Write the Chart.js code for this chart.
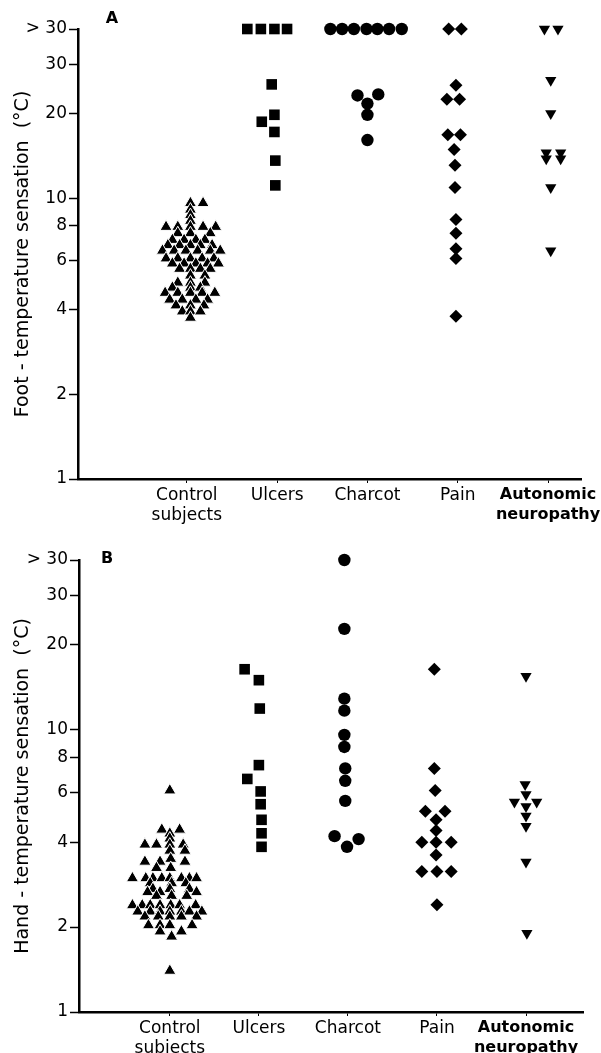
<!DOCTYPE html>
<html lang="en">
<head>
<meta charset="UTF-8">
<title>Foot and hand temperature sensation</title>
<script src="https://cdn.jsdelivr.net/npm/chart.js"></script>
<style>
  body { margin: 0; background: #fff; }
  canvas { display: block; }
</style>
</head>
<body>
<canvas id="panelA" width="601" height="525"></canvas>
<canvas id="panelB" width="601" height="528"></canvas>
<script>
// categories and y axis ticks (">30" values are plotted on the top line, 40)
const groups = [['Control', 'subjects'], 'Ulcers', 'Charcot', 'Pain', ['Autonomic', 'neuropathy']];
const yTicks = [1, 2, 4, 6, 8, 10, 20, 30, 40];
const yTickLabels = ['1', '2', '4', '6', '8', '10', '20', '30', '> 30'];

// A: foot, threshold in degC, x = group position incl. horizontal spread
const footControlY = [9.6, 9.6, 9.1, 8.7, 8.3, 7.9, 7.9, 7.9, 7.9, 7.9, 7.5, 7.5, 7.5, 7.1, 7.1, 7.1, 7.1,
  6.8, 6.8, 6.8, 6.8, 6.8, 6.5, 6.5, 6.5, 6.5, 6.5, 6.5, 6.1, 6.1, 6.1, 6.1, 6.1, 5.85, 5.85, 5.85, 5.85, 5.85,
  5.6, 5.6, 5.6, 5.6, 5.3, 5.3, 5.0, 5.0, 5.0, 4.8, 4.8, 4.8, 4.6, 4.6, 4.6, 4.6, 4.6, 4.35, 4.35, 4.35, 4.35,
  4.15, 4.15, 4.15, 3.95, 3.95, 3.95, 3.75];
const footControlX = [1.04, 1.18, 1.04, 1.04, 1.04, 0.77, 0.90, 1.04, 1.18, 1.32, 0.90, 1.04, 1.26, 0.84, 0.97, 1.10, 1.20,
  0.79, 0.92, 1.04, 1.15, 1.28, 0.73, 0.86, 0.99, 1.12, 1.26, 1.37, 0.77, 0.90, 1.04, 1.17, 1.30, 0.84, 0.97, 1.10, 1.23, 1.35,
  0.92, 1.04, 1.15, 1.26, 1.04, 1.20, 0.90, 1.04, 1.20, 0.84, 1.04, 1.15, 0.76, 0.90, 1.04, 1.17, 1.31, 0.81, 0.95, 1.10, 1.23,
  0.88, 1.04, 1.19, 0.95, 1.04, 1.15, 1.04];
const footUlcersY = [40, 40, 40, 40, 25.4, 19.8, 18.7, 17.2, 13.6, 11.1];
const footUlcersX = [1.67, 1.82, 1.97, 2.11, 1.94, 1.97, 1.83, 1.97, 1.98, 1.98];
const footCharcotY = [40, 40, 40, 40, 40, 40, 40, 23.2, 23.4, 21.7, 19.8, 16.1];
const footCharcotX = [2.59, 2.72, 2.85, 2.99, 3.11, 3.24, 3.38, 2.89, 3.12, 3.0, 3.0, 3.0];
const footPainY = [40, 40, 25.2, 22.5, 22.5, 16.8, 16.8, 14.9, 13.1, 10.9, 8.4, 7.5, 6.6, 6.1, 3.8];
const footPainX = [3.90, 4.04, 3.98, 3.88, 4.02, 3.89, 4.03, 3.96, 3.97, 3.97, 3.98, 3.98, 3.98, 3.98, 3.98];
const footAutoY = [40, 40, 26.3, 20.0, 14.5, 13.8, 14.5, 13.8, 10.9, 6.5];
const footAutoX = [4.96, 5.11, 5.03, 5.03, 4.98, 4.98, 5.14, 5.14, 5.03, 5.03];

// B: hand
const handControlY = [6.1, 4.43, 4.43, 4.29, 4.12, 3.92, 3.92, 3.92, 3.92, 3.73, 3.73, 3.49, 3.41, 3.41, 3.41, 3.24, 3.24,
  2.98, 2.98, 2.98, 2.98, 2.98, 2.98, 2.98, 2.98, 2.86, 2.86, 2.86, 2.73, 2.73, 2.73, 2.66, 2.66, 2.66, 2.58, 2.58, 2.58,
  2.39, 2.39, 2.39, 2.39, 2.39, 2.39, 2.39, 2.27, 2.27, 2.27, 2.27, 2.27, 2.27, 2.27, 2.18, 2.18, 2.18, 2.18, 2.18,
  2.03, 2.03, 2.03, 2.03, 1.93, 1.93, 1.85, 1.40];
const handControlX = [1.0, 0.91, 1.11, 1.0, 1.0, 0.72, 0.85, 1.0, 1.15, 1.0, 1.17, 1.01, 0.72, 0.89, 1.17, 0.85, 1.01,
  0.58, 0.73, 0.81, 0.91, 1.0, 1.13, 1.22, 1.30, 0.78, 1.02, 1.18, 0.81, 1.0, 1.22, 0.75, 0.89, 1.30, 0.85, 1.02, 1.19,
  0.58, 0.69, 0.78, 0.89, 1.01, 1.11, 1.29, 0.64, 0.78, 0.89, 1.0, 1.13, 1.22, 1.36, 0.72, 0.87, 1.0, 1.13, 1.30,
  0.76, 0.89, 1.0, 1.25, 0.89, 1.13, 1.02, 1.0];
const handUlcersY = [16.4, 15.0, 11.9, 7.5, 6.7, 6.05, 5.45, 4.8, 4.3, 3.85];
const handUlcersX = [1.84, 2.0, 2.01, 2.0, 1.87, 2.02, 2.02, 2.03, 2.03, 2.03];
const handCharcotY = [40, 22.8, 12.9, 11.7, 9.6, 8.7, 7.3, 6.6, 5.6, 4.2, 3.85, 4.1];
const handCharcotX = [2.96, 2.96, 2.96, 2.96, 2.96, 2.96, 2.97, 2.97, 2.97, 2.85, 2.99, 3.12];
const handPainY = [16.4, 7.3, 6.1, 5.15, 5.15, 4.8, 4.4, 4.0, 4.0, 4.0, 3.6, 3.15, 3.15, 3.15, 2.4];
const handPainX = [3.97, 3.97, 3.98, 3.87, 4.09, 3.99, 3.99, 3.83, 3.99, 4.16, 3.99, 3.83, 4.0, 4.16, 4.0];
const handAutoY = [15.5, 6.4, 5.9, 5.55, 5.55, 5.35, 4.95, 4.55, 3.4, 1.9];
const handAutoX = [5.0, 4.99, 5.0, 4.87, 5.12, 5.0, 5.0, 5.0, 5.0, 5.01];

const FONT = '"DejaVu Sans", Arial, sans-serif';

// draws the panel letter (A / B)
const panelLabel = {
  id: 'panelLabel',
  afterDraw(chart, args, opts) {
    const ctx = chart.ctx;
    ctx.save();
    ctx.font = 'bold 16px ' + FONT;
    ctx.fillStyle = '#000';
    ctx.textAlign = 'center';
    ctx.textBaseline = 'middle';
    ctx.fillText(opts.text, opts.x, opts.y);
    ctx.restore();
  }
};

function series(x, y, style, radius, extra) {
  return Object.assign({
    data: y.map((v, i) => ({ x: x[i], y: v })),
    pointStyle: style,
    pointRadius: radius,
    pointHoverRadius: radius,
    backgroundColor: '#000',
    borderColor: '#000',
    borderWidth: 0,
    clip: false
  }, extra || {});
}

function makePanel(id, datasets, xMin, xMax, box, letter, yTitle) {
  const canvas = document.getElementById(id);
  return new Chart(canvas, {
    type: 'scatter',
    data: { datasets },
    options: {
      responsive: false,
      animation: false,
      devicePixelRatio: 1,
      layout: { padding: { top: box.top, right: canvas.width - box.right, left: 0, bottom: 0 } },
      plugins: {
        legend: { display: false },
        tooltip: { enabled: false },
        panelLabel: letter
      },
      scales: {
        x: {
          type: 'linear',
          min: xMin,
          max: xMax,
          afterBuildTicks: sc => { sc.ticks = groups.map((g, i) => ({ value: i + 1 })); },
          afterFit: sc => {
            sc.height = canvas.height - box.bottom;
            sc.paddingLeft = 0;
            sc.paddingRight = 0;
          },
          ticks: {
            callback: (v, i) => groups[i],
            color: '#000',
            padding: 2,
            maxRotation: 0,
            autoSkip: false,
            font: ctx => ctx.index === 4
              ? { family: FONT, size: 16, weight: 'bold', lineHeight: 1.25 }
              : { family: FONT, size: 17, weight: 'normal', lineHeight: 1.2 }
          },
          grid: { drawOnChartArea: false, tickLength: 4, tickColor: '#000', tickWidth: 1 },
          border: { color: '#000', width: 2.5 }
        },
        y: {
          type: 'logarithmic',
          min: 1,
          max: 40,
          afterBuildTicks: sc => { sc.ticks = yTicks.map(v => ({ value: v })); },
          afterFit: sc => { sc.width = box.left; },
          ticks: {
            callback: (v, i) => yTickLabels[i],
            color: '#000',
            padding: 2,
            font: { family: FONT, size: 17 }
          },
          grid: { drawOnChartArea: false, tickLength: 9, tickColor: '#000', tickWidth: 1.5 },
          border: { color: '#000', width: 2.5 },
          title: {
            display: true,
            text: yTitle,
            color: '#000',
            font: { family: FONT, size: 19 },
            padding: { top: 12, bottom: 0 }
          }
        }
      }
    },
    plugins: [panelLabel]
  });
}

const ctrlExtra = { borderColor: '#fff', borderWidth: 1 };

makePanel('panelA', [
  series(footControlX, footControlY, 'triangle', 7, ctrlExtra),
  series(footUlcersX, footUlcersY, 'rect', 7.5),
  series(footCharcotX, footCharcotY, 'circle', 6.2),
  series(footPainX, footPainY, 'rectRot', 6.5),
  series(footAutoX, footAutoY, 'triangle', 6.5, { rotation: 180 })
], -0.205, 5.365, { left: 78, top: 29, right: 581, bottom: 479 },
  { text: 'A', x: 112, y: 19 }, 'Foot - temperature sensation  (°C)');

makePanel('panelB', [
  series(handControlX, handControlY, 'triangle', 7, ctrlExtra),
  series(handUlcersX, handUlcersY, 'rect', 7.5),
  series(handCharcotX, handCharcotY, 'circle', 6.2),
  series(handPainX, handPainY, 'rectRot', 6.5),
  series(handAutoX, handAutoY, 'triangle', 6.5, { rotation: 180 })
], -0.02, 5.64, { left: 79, top: 35, right: 583, bottom: 487 },
  { text: 'B', x: 107, y: 34 }, 'Hand - temperature sensation  (°C)');
</script>
</body>
</html>
